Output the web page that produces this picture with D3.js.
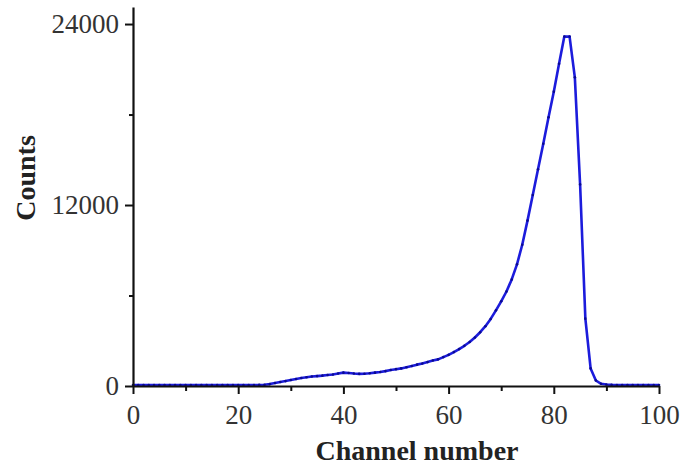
<!DOCTYPE html>
<html>
<head>
<meta charset="utf-8">
<script src="https://cdn.jsdelivr.net/npm/d3@7"></script>
<style>
  body { margin: 0; background: #fff; }
  svg { display: block; }
  .tick text { font-family: "Liberation Serif", "Times New Roman", serif; font-size: 27px; fill: #333; }
  .title { font-family: "Liberation Serif", "Times New Roman", serif; font-size: 28px; font-weight: bold; fill: #222; }
</style>
</head>
<body>
<svg id="chart" width="683" height="465"></svg>
<script>
// channel numbers 0..100
const channels = d3.range(0, 101);
// counts, one per channel
const counts = [
    0, 0, 0, 0, 0, 0, 0, 0, 0, 0,
    0, 0, 0, 0, 0, 0, 0, 0, 0, 0,
    0, 0, 0, 0, 5, 20, 60, 130, 200, 260,
    330, 400, 460, 510, 560, 590, 620, 660, 700, 760,
    820, 800, 760, 740, 750, 780, 820, 860, 920, 990,
    1050, 1100, 1180, 1260, 1350, 1430, 1520, 1620, 1700, 1850,
    2000, 2180, 2380, 2600, 2850, 3150, 3500, 3900, 4380, 4950,
    5550, 6200, 7000, 8000, 9300, 10900, 12600, 14300, 16000, 17750,
    19450, 21300, 23100, 23100, 20400, 13300, 4400, 1100, 300, 80,
    30, 10, 0, 0, 0, 0, 0, 0, 0, 0,
    0
];
const xTicks = [0, 20, 40, 60, 80, 100];
const xMinor = [10, 30, 50, 70, 90];
const yTicks = [0, 12000, 24000];
const yMinor = [6000, 18000];

const svg = d3.select('#chart');
const mLeft = 133, mRight = 659, mTop = 7, mBottom = 386;

const x = d3.scaleLinear().domain([0, 100]).range([mLeft, mRight]);
const y = d3.scaleLinear().domain([0, 25130]).range([mBottom, mTop]);

// minor ticks
svg.append('g')
    .attr('transform', `translate(0, ${mBottom})`)
    .call(d3.axisBottom(x).tickValues(xMinor).tickSize(5).tickFormat(''))
    .call(g => g.select('.domain').remove())
    .selectAll('line').attr('stroke', '#111').attr('stroke-width', 2);
svg.append('g')
    .attr('transform', `translate(${mLeft}, 0)`)
    .call(d3.axisLeft(y).tickValues(yMinor).tickSize(4).tickFormat(''))
    .call(g => g.select('.domain').remove())
    .selectAll('line').attr('stroke', '#111').attr('stroke-width', 2);

// the curve
const line = d3.line()
    .x((d, i) => x(channels[i]))
    .y(d => y(d) - 1);
svg.append('path')
    .datum(counts)
    .attr('fill', 'none')
    .attr('stroke', '#1c1cdc')
    .attr('stroke-width', 2.6)
    .attr('stroke-linejoin', 'round')
    .attr('d', line);
svg.append('g').selectAll('circle')
    .data(counts)
    .enter()
    .append('circle')
    .attr('cx', (d, i) => x(channels[i]))
    .attr('cy', d => y(d) - 1)
    .attr('r', 1.3)
    .attr('fill', '#0a0a90');

// major axes
const xAxis = svg.append('g')
    .attr('transform', `translate(0, ${mBottom})`)
    .call(d3.axisBottom(x).tickValues(xTicks).tickSize(8).tickSizeOuter(0).tickPadding(6));
const yAxis = svg.append('g')
    .attr('transform', `translate(${mLeft}, 0)`)
    .call(d3.axisLeft(y).tickValues(yTicks).tickSize(8).tickSizeOuter(0).tickPadding(6).tickFormat(d3.format('d')));
[xAxis, yAxis].forEach(g => {
    g.select('.domain').attr('stroke', '#111').attr('stroke-width', 2.2);
    g.selectAll('.tick line').attr('stroke', '#111').attr('stroke-width', 2);
});
xAxis.selectAll('.tick text').attr('dy', '0.9em');

svg.append('text')
    .attr('class', 'title')
    .attr('x', 417)
    .attr('y', 460)
    .attr('text-anchor', 'middle')
    .text('Channel number');

svg.append('text')
    .attr('class', 'title')
    .attr('transform', 'translate(35, 178) rotate(-90)')
    .attr('text-anchor', 'middle')
    .text('Counts');
</script>
</body>
</html>
